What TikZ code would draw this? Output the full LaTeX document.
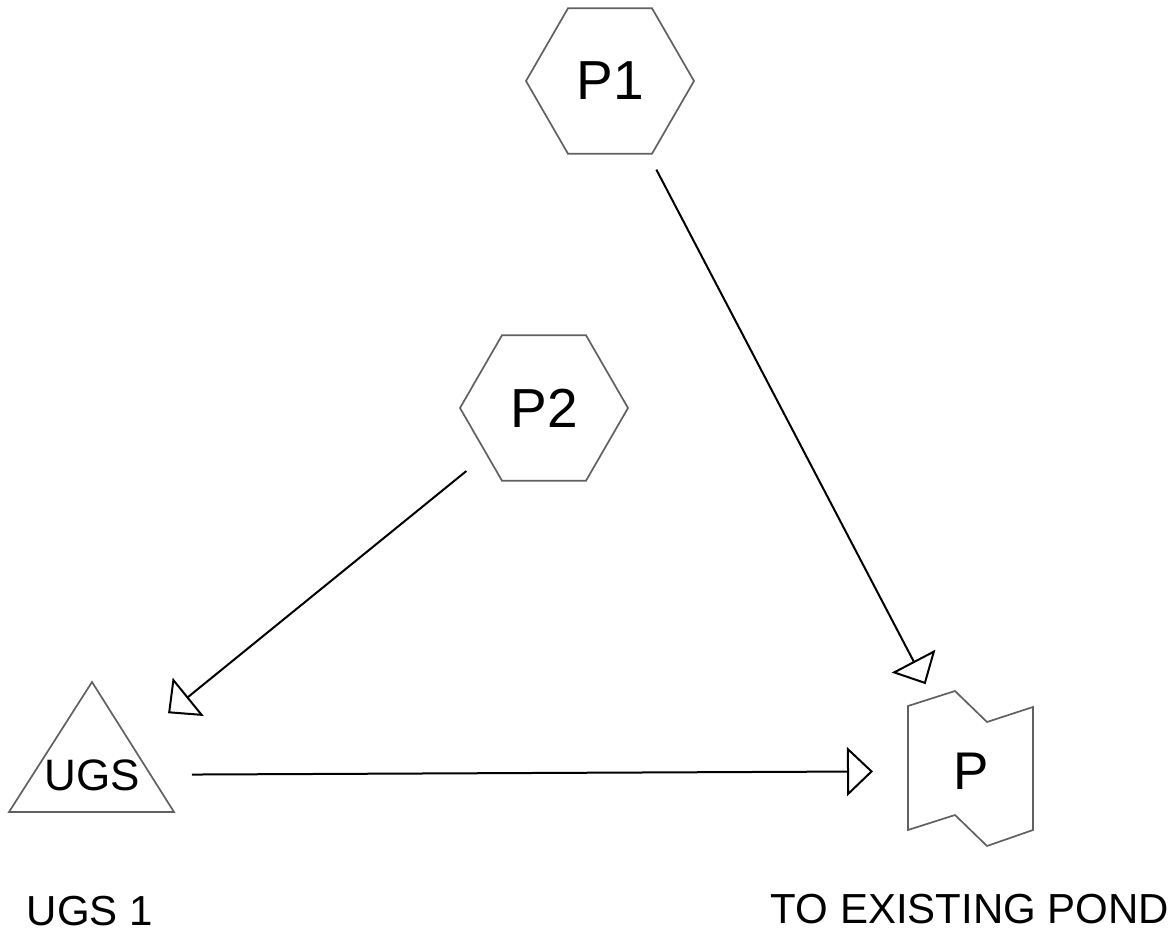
\documentclass[tikz,border=0pt]{standalone}
\usepackage{fontspec}
\setmainfont{Liberation Sans}
\usetikzlibrary{arrows.meta,shapes.geometric}

\begin{document}
\begin{tikzpicture}
  [x=1pt,y=-1pt,every node/.style={inner sep=0pt},
   flow/.style={draw,line width=2pt,-{Triangle[open,length=26pt,width=49pt]},shorten <=100pt,shorten >=98pt},
   outline/.style={draw=black!62,line width=1.7pt,line join=miter},
   hexa/.style={regular polygon,regular polygon sides=6,minimum size=168pt,outline,font=\fontsize{55}{60}\selectfont},
   big/.style={font=\fontsize{44}{50}\selectfont},
   note/.style={font=\fontsize{42}{48}\selectfont}]
  \useasboundingbox (0,0) rectangle (1176,941);

  \node[hexa] (np1) at (610,81) {P1};
  \node[hexa] (np2) at (544,408) {P2};
  \node[big] (nugs) at (92,775) {UGS};
  \node[font=\fontsize{53}{58}\selectfont] (np) at (971,771) {P};

  % triangle and pond outlines round the text nodes
  \draw[outline] (nugs.center) ++(0,-93) -- ++(82,130) -- ++(-165,0) -- cycle;
  \draw[outline] (np.center) ++(-63,-65) -- ++(47,-15) -- ++(32,31) -- ++(46,-15)
    -- ++(0,123) -- ++(-46,16) -- ++(-32,-31) -- ++(-47,15) -- cycle;

  \node[note] (nl1) at (90,911) {UGS 1};
  \node[note] (nl2) at (970,909) {TO EXISTING POND};

  \path (np1.center) edge[flow] (np.center);
  \path (np2.center) edge[flow] (nugs.center);
  \path (nugs.center) edge[flow] (np.center);

\end{tikzpicture}
\end{document}
